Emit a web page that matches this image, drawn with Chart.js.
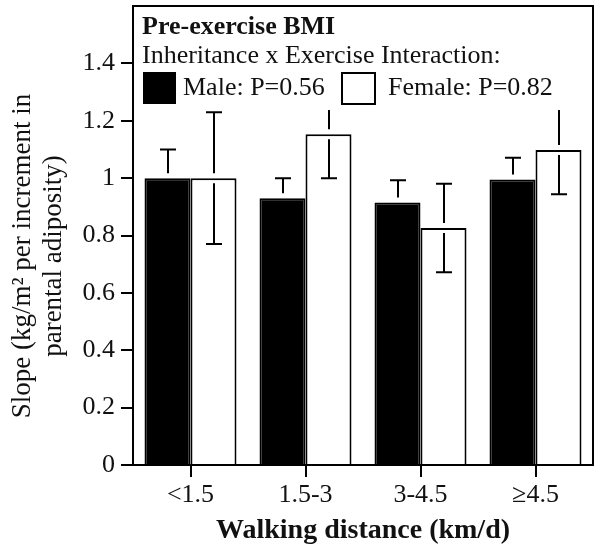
<!DOCTYPE html>
<html>
<head>
<meta charset="utf-8">
<script src="https://cdn.jsdelivr.net/npm/chart.js@4.4.1/dist/chart.umd.min.js"></script>
<style>
  html, body { margin: 0; padding: 0; background: #fff; }
  #wrap { width: 601px; height: 553px; position: relative; }
</style>
</head>
<body>
<div id="wrap"><canvas id="bmiChart"></canvas></div>
<script>
// data
const categories = ['<1.5', '1.5-3', '3-4.5', '≥4.5'];
const maleSlope = [1.0, 0.93, 0.915, 0.995];
const maleErr = [0.10, 0.07, 0.078, 0.076];
const femaleSlope = [1.0, 1.153, 0.826, 1.098];
const femaleErr = [0.23, 0.153, 0.154, 0.154];
const yTicks = [0, 0.2, 0.4, 0.6, 0.8, 1, 1.2, 1.4];

const SERIF = '"Liberation Serif", "DejaVu Serif", serif';
const INK = '#111';

// error bars, drawn with a small gap where they cross the bar top
const errorBars = {
    id: 'errorBars',
    afterDatasetsDraw(chart) {
        const ctx = chart.ctx;
        const y = chart.scales.y;
        const sets = [[maleSlope, maleErr], [femaleSlope, femaleErr]];
        ctx.save();
        ctx.strokeStyle = '#000';
        ctx.lineWidth = 2;
        sets.forEach(([vals, errs], di) => {
            chart.getDatasetMeta(di).data.forEach((bar, i) => {
                const x = Math.round(bar.x);
                const top = y.getPixelForValue(vals[i]);
                const hi = y.getPixelForValue(vals[i] + errs[i]);
                const lo = y.getPixelForValue(vals[i] - errs[i]);
                const gap = 5;
                ctx.beginPath();
                ctx.moveTo(x, hi); ctx.lineTo(x, top - gap);
                ctx.moveTo(x, top + gap); ctx.lineTo(x, lo);
                ctx.moveTo(x - 8, hi); ctx.lineTo(x + 8, hi);
                ctx.moveTo(x - 8, lo); ctx.lineTo(x + 8, lo);
                ctx.stroke();
            });
        });
        ctx.restore();
    }
};

// legend block in the top of the plot + frame + y title
const decor = {
    id: 'decor',
    afterDatasetsDraw(chart) {
        const ctx = chart.ctx;
        const a = chart.chartArea;
        ctx.save();
        // white legend backdrop hides whiskers that run into it
        ctx.fillStyle = '#fff';
        ctx.fillRect(a.left + 2, a.top + 2, a.right - a.left - 4, 102);
        ctx.fillStyle = INK;
        ctx.textBaseline = 'middle';
        ctx.textAlign = 'left';
        ctx.font = 'bold 26px ' + SERIF;
        ctx.fillText('Pre-exercise BMI', a.left + 9, a.top + 21);
        ctx.font = '26px ' + SERIF;
        ctx.fillText('Inheritance x Exercise Interaction:', a.left + 9, a.top + 50);
        ctx.lineWidth = 2;
        ctx.strokeStyle = '#000';
        ctx.fillStyle = '#000';
        ctx.fillRect(a.left + 10, a.top + 66, 33, 32);
        ctx.fillStyle = '#fff';
        ctx.fillRect(a.left + 209, a.top + 67, 33, 31);
        ctx.strokeRect(a.left + 209, a.top + 67, 33, 31);
        ctx.fillStyle = INK;
        ctx.fillText('Male: P=0.56', a.left + 50, a.top + 82);
        ctx.fillText('Female: P=0.82', a.left + 255, a.top + 82);
        // frame
        ctx.strokeRect(a.left, a.top, a.right - a.left, a.bottom - a.top);
        // y title, two lines rotated
        ctx.translate(23, 256);
        ctx.rotate(-Math.PI / 2);
        ctx.textAlign = 'center';
        ctx.font = '27px ' + SERIF;
        ctx.fillText('Slope (kg/m² per increment in', 0, 0);
        ctx.fillText('parental adiposity)', 0, 31);
        ctx.restore();
    }
};

new Chart(document.getElementById('bmiChart'), {
    type: 'bar',
    data: {
        labels: categories,
        datasets: [{
            label: 'Male',
            data: maleSlope,
            backgroundColor: '#000',
            borderColor: '#000',
            borderWidth: 2
        }, {
            label: 'Female',
            data: femaleSlope,
            backgroundColor: '#fff',
            borderColor: '#000',
            borderWidth: 2
        }]
    },
    options: {
        responsive: true,
        maintainAspectRatio: false,
        animation: false,
        datasets: { bar: { barPercentage: 1, categoryPercentage: 0.8 } },
        layout: { padding: { top: 6, right: 8, left: 0, bottom: 0 } },
        plugins: {
            legend: { display: false },
            tooltip: { enabled: false }
        },
        scales: {
            x: {
                afterFit(s) {
                    s.height = 88;
                    s.paddingLeft = 0;
                    s.paddingRight = 0;
                },
                grid: {
                    drawOnChartArea: false,
                    drawTicks: true,
                    tickLength: 12,
                    color: '#000',
                    lineWidth: 2,
                    offset: false
                },
                border: { display: false },
                ticks: {
                    color: INK,
                    padding: 3,
                    font: { family: SERIF, size: 26 },
                    maxRotation: 0,
                    autoSkip: false
                },
                title: {
                    display: true,
                    text: 'Walking distance (km/d)',
                    color: INK,
                    padding: { top: 0, bottom: 5 },
                    font: { family: SERIF, size: 28, weight: 'bold' }
                }
            },
            y: {
                min: 0,
                max: 1.6,
                afterFit(s) {
                    s.width = 133;
                    s.paddingTop = 0;
                    s.paddingBottom = 0;
                },
                afterBuildTicks(s) { s.ticks = yTicks.map(v => ({ value: v })); },
                grid: {
                    drawOnChartArea: false,
                    drawTicks: true,
                    tickLength: 12,
                    color: '#000',
                    lineWidth: 2
                },
                border: { display: false },
                ticks: {
                    color: INK,
                    padding: 6,
                    font: { family: SERIF, size: 26 },
                    callback: v => String(Math.round(v * 10) / 10)
                }
            }
        }
    },
    plugins: [errorBars, decor]
});
</script>
</body>
</html>
